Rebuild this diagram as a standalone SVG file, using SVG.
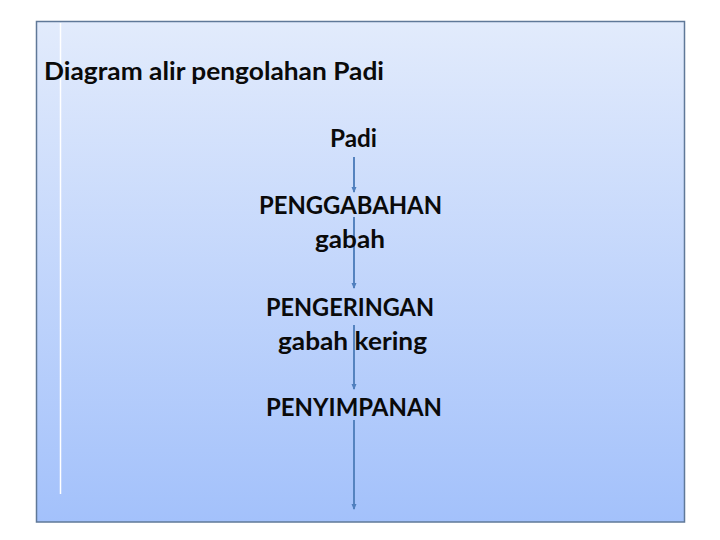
<svg xmlns="http://www.w3.org/2000/svg" width="720" height="540" viewBox="0 0 720 540">
<defs>
<linearGradient id="bg" x1="0" y1="0" x2="0" y2="1">
<stop offset="0" stop-color="#e2ebfc"/>
<stop offset="1" stop-color="#a3c1fb"/>
</linearGradient>
<marker id="ah" markerWidth="6" markerHeight="6" refX="5" refY="3" orient="auto" markerUnits="userSpaceOnUse">
<path d="M0,0.5 L6,3 L0,5.5 Z" fill="#4f7fbe"/>
</marker>
<style>
.t{font-family:Lato,"Open Sans","Liberation Sans",sans-serif;font-size:24px;font-weight:bold;fill:#0a0a0a;}
.c{text-anchor:middle;}
.ln{stroke:#5583bf;stroke-width:2;fill:none;marker-end:url(#ah);}
</style>
</defs>
<rect x="36.5" y="21.5" width="648" height="500.5" fill="url(#bg)" stroke="#5f7898" stroke-width="1.5"/>
<line x1="60.5" y1="23" x2="60.5" y2="494" stroke="#ffffff" stroke-width="1.5"/>
<g id="title"><text class="t" x="44" y="80" textLength="340" lengthAdjust="spacingAndGlyphs">Diagram alir pengolahan Padi</text></g>
<g id="connectors">
<line class="ln" x1="354" y1="157" x2="354" y2="192"/>
<line class="ln" x1="354" y1="217" x2="354" y2="288"/>
<line class="ln" x1="354" y1="325" x2="354" y2="389"/>
<line class="ln" x1="354" y1="420" x2="354" y2="509"/>
</g>
<g id="node-padi"><text class="t c" x="353.5" y="147" textLength="47" lengthAdjust="spacingAndGlyphs">Padi</text></g>
<g id="node-penggabahan">
<text class="t c" x="350.5" y="214" textLength="183" lengthAdjust="spacingAndGlyphs">PENGGABAHAN</text>
<text class="t c" x="350" y="248" textLength="70" lengthAdjust="spacingAndGlyphs">gabah</text>
</g>
<g id="node-pengeringan">
<text class="t c" x="350" y="316" textLength="168" lengthAdjust="spacingAndGlyphs">PENGERINGAN</text>
<text class="t c" x="352.5" y="350" textLength="149" lengthAdjust="spacingAndGlyphs">gabah kering</text>
</g>
<g id="node-penyimpanan"><text class="t c" x="354" y="416" textLength="176" lengthAdjust="spacingAndGlyphs">PENYIMPANAN</text></g>
</svg>
